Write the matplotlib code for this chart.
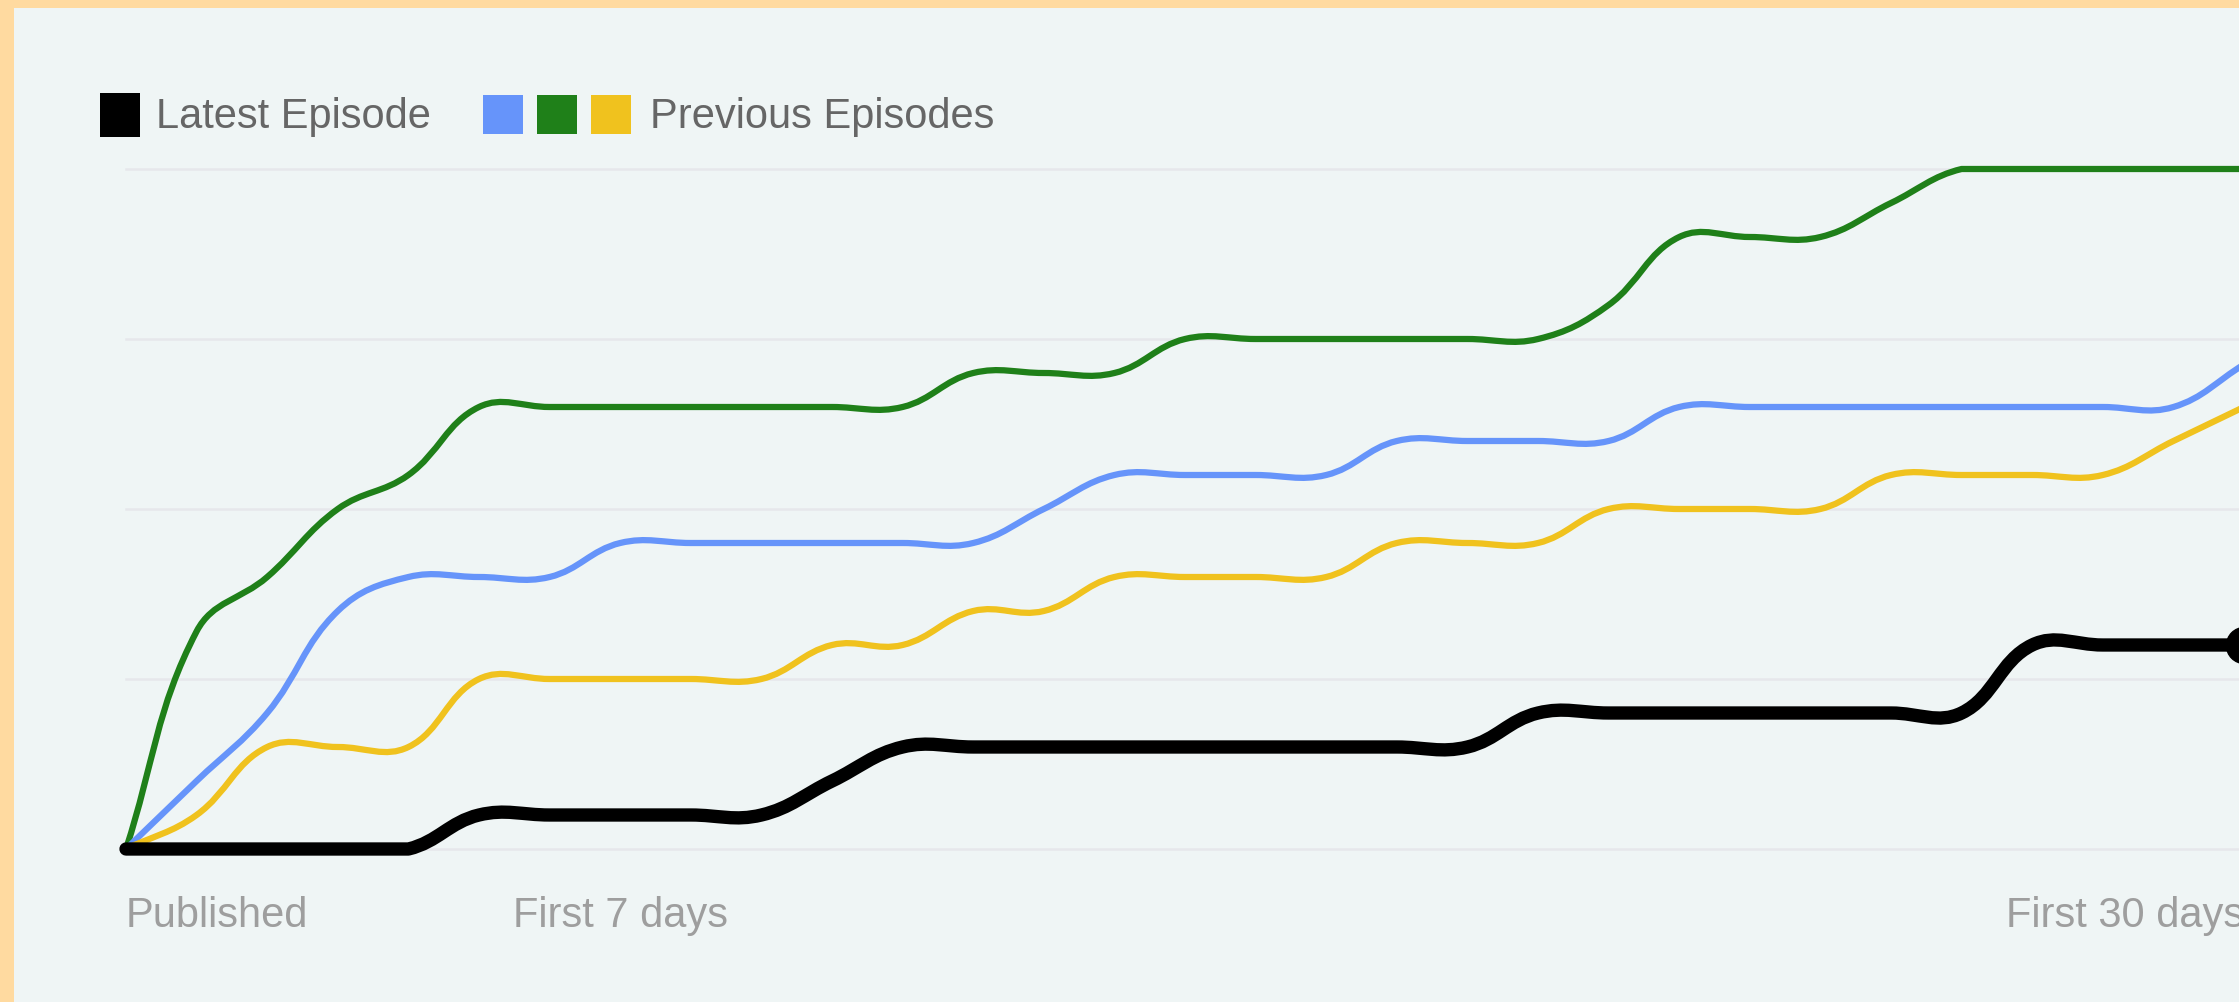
import numpy as np
import matplotlib
matplotlib.use("Agg")
import matplotlib.pyplot as plt
from matplotlib.path import Path
from matplotlib.patches import PathPatch, Rectangle
from matplotlib import transforms

# Data (downloads per day since publishing)
days = list(range(31))
latest = [0, 0, 0, 0, 0, 2, 2, 2, 2, 2, 4, 6, 6, 6, 6, 6, 6, 6, 6, 6,
          8, 8, 8, 8, 8, 8, 8, 12, 12, 12, 12]
prev_blue = [0, 4, 8, 14, 16, 16, 16, 18, 18, 18, 18, 18, 18, 20, 22, 22,
             22, 22, 24, 24, 24, 24, 26, 26, 26, 26, 26, 26, 26, 26, 28.5]
prev_green = [0, 12.8, 16, 20, 22, 26, 26, 26, 26, 26, 26, 26, 28, 28, 28, 30,
              30, 30, 30, 30, 30, 32, 36, 36, 36, 38, 40, 40, 40, 40, 40]
prev_yellow = [0, 2, 6, 6, 6, 10, 10, 10, 10, 10, 12, 12, 14, 14, 16, 16,
               16, 16, 18, 18, 18, 20, 20, 20, 20, 22, 22, 22, 22, 24, 26]

tick_days = [0, 7, 30]
tick_labels = ["Published", "First 7 days", "First 30 days"]
tick_align = ["left", "center", "right"]
grid_values = [0, 10, 20, 30, 40]

W, H = 2239, 1003
BORDER = "#ffdaa0"
PANEL = "#eff5f5"
GRID = "#e6e7eb"
BLACK = "#000000"
BLUE = "#6694fa"
GREEN = "#1f8019"
YELLOW = "#f0c21e"

plt.rcParams["font.family"] = ["Liberation Sans", "DejaVu Sans"]

fig = plt.figure(figsize=(W / 100, H / 100), dpi=100, facecolor=BORDER)
fig.patches.append(Rectangle((14 / W, 0), 1, 1 - 9 / H, transform=fig.transFigure,
                             facecolor=PANEL, edgecolor="none", zorder=-5))

# plot area: day 0 at x=126px, day 30 at x=2244px, 0 at y=850px, 40 at y=170px
ax = fig.add_axes([126 / W, 1 - 850 / H, 2118 / W, 680 / H])
ax.set_zorder(1)
ax.set_xlim(0, 30)
ax.set_ylim(0, 40)
ax.axis("off")
ax.patch.set_alpha(0)

for g in grid_values:
    ax.axhline(g, color=GRID, lw=1.8, zorder=1, clip_on=False)


def spline_patch(xs, ys, color, lw, z, tension=0.4):
    # cardinal-style bezier through the points, control points kept inside the plot area
    pts = ax.transData.transform(np.column_stack([xs, ys]))
    bb = ax.bbox
    n = len(pts)
    cp_prev, cp_next = [], []
    for i in range(n):
        p0 = pts[i - 1] if i > 0 else pts[i]
        p1 = pts[i]
        p2 = pts[i + 1] if i < n - 1 else pts[i]
        d01 = np.hypot(*(p1 - p0))
        d12 = np.hypot(*(p2 - p1))
        tot = d01 + d12
        s01 = d01 / tot if tot else 0
        s12 = d12 / tot if tot else 0
        a = p1 - tension * s01 * (p2 - p0)
        b = p1 + tension * s12 * (p2 - p0)
        for c in (a, b):
            c[0] = min(max(c[0], bb.x0), bb.x1)
            c[1] = min(max(c[1], bb.y0), bb.y1)
        cp_prev.append(a)
        cp_next.append(b)
    verts = [pts[0]]
    codes = [Path.MOVETO]
    for i in range(1, n):
        verts += [cp_next[i - 1], cp_prev[i], pts[i]]
        codes += [Path.CURVE4] * 3
    verts = ax.transData.inverted().transform(np.array(verts))
    patch = PathPatch(Path(verts, codes), fill=False, edgecolor=color, lw=lw,
                      capstyle="round", joinstyle="round", zorder=z, clip_on=False)
    ax.add_patch(patch)


spline_patch(days, prev_green, GREEN, 4.5, 3)
spline_patch(days, prev_blue, BLUE, 4.5, 4)
spline_patch(days, prev_yellow, YELLOW, 4.5, 5)
spline_patch(days, latest, BLACK, 9.6, 6)
ax.plot([days[-1]], [latest[-1]], "o", color=BLACK, ms=26, zorder=7, clip_on=False)

# x labels
trans = transforms.blended_transform_factory(ax.transData, fig.transFigure)
for d, lab, ha in zip(tick_days, tick_labels, tick_align):
    ax.text(d, 1 - 927 / H, lab, transform=trans, ha=ha, va="baseline",
            fontsize=30, color="#9e9e9e")

# legend
def box(x0, y0, x1, y1, color):
    fig.patches.append(Rectangle((x0 / W, 1 - y1 / H), (x1 - x0) / W, (y1 - y0) / H,
                                 transform=fig.transFigure, facecolor=color,
                                 edgecolor="none", zorder=2))

box(100, 94, 140, 138, BLACK)
box(483, 96, 523, 135, BLUE)
box(537, 96, 577, 135, GREEN)
box(591, 96, 631, 135, YELLOW)
fig.text(156 / W, 1 - 128 / H, "Latest Episode", ha="left", va="baseline",
         fontsize=30, color="#666666")
fig.text(650 / W, 1 - 128 / H, "Previous Episodes", ha="left", va="baseline",
         fontsize=30, color="#666666")

fig.savefig("out.png", dpi=100, facecolor=BORDER)
